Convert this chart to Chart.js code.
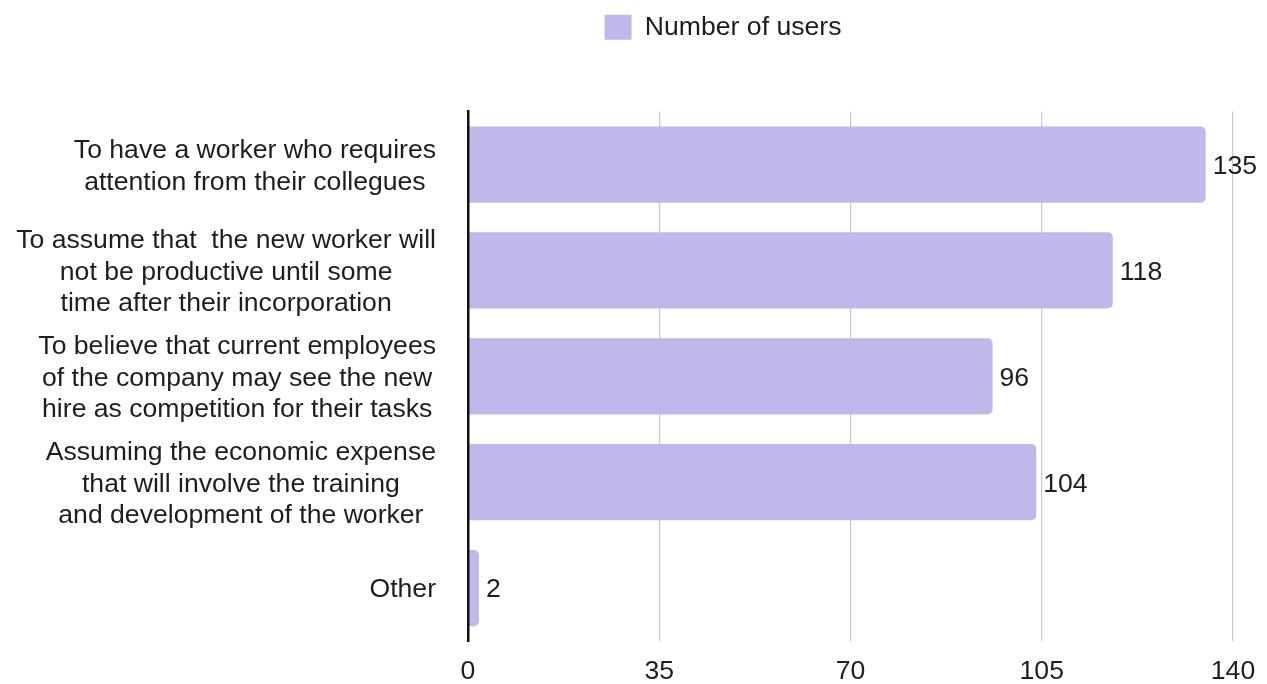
<!DOCTYPE html>
<html>
<head>
<meta charset="utf-8">
<title>Number of users</title>
<script src="https://cdn.jsdelivr.net/npm/chart.js@4/dist/chart.umd.min.js"></script>
<style>
  html, body { margin: 0; padding: 0; background: #ffffff; }
  #wrap { width: 1267px; height: 684px; }
</style>
</head>
<body>
<div id="wrap"><canvas id="chart" width="1267" height="684"></canvas></div>
<script>
// Survey answers, one entry per bar (each answer split into its printed lines)
const categories = [
  ["To have a worker who requires", "attention from their collegues"],
  ["To assume that  the new worker will", "not be productive until some", "time after their incorporation"],
  ["To believe that current employees", "of the company may see the new", "hire as competition for their tasks"],
  ["Assuming the economic expense", "that will involve the training", "and development of the worker"],
  ["Other"]
];
const seriesName = "Number of users";
const userCounts = [135, 118, 96, 104, 2];
const axisMin = 0;
const axisMax = 140;
const axisStep = 35;

const FONT = "'Liberation Sans', Arial, Helvetica, sans-serif";
const FONT_SIZE = 26.6;
const TEXT = '#1e1e1e';
const BAR = '#bfb9eb';

// Multi-line category labels: each block is centred on itself and the block is right-aligned
const categoryLabels = {
  id: 'categoryLabels',
  afterDraw(chart) {
    const y = chart.scales.y;
    const ctx = chart.ctx;
    const lineH = 31.5;
    const rightEdge = y.right - 32;
    ctx.save();
    ctx.font = FONT_SIZE + 'px ' + FONT;
    ctx.fillStyle = TEXT;
    ctx.textAlign = 'center';
    ctx.textBaseline = 'middle';
    chart.data.labels.forEach((lines, i) => {
      const cy = y.getPixelForValue(i) + 2;
      const w = Math.max(...lines.map(l => ctx.measureText(l).width));
      const cx = rightEdge - w / 2;
      const y0 = cy - (lines.length - 1) * lineH / 2;
      lines.forEach((l, k) => ctx.fillText(l, cx, y0 + k * lineH));
    });
    ctx.restore();
  }
};

// Value printed just past the end of each bar
const valueLabels = {
  id: 'valueLabels',
  afterDatasetsDraw(chart) {
    const ctx = chart.ctx;
    ctx.save();
    ctx.font = FONT_SIZE + 'px ' + FONT;
    ctx.fillStyle = TEXT;
    ctx.textAlign = 'left';
    ctx.textBaseline = 'middle';
    chart.data.datasets.forEach((ds, di) => {
      chart.getDatasetMeta(di).data.forEach((bar, i) => {
        ctx.fillText(String(ds.data[i]), bar.x + 7, bar.y + 2);
      });
    });
    ctx.restore();
  }
};

// Leave room between the legend and the plot
const legendGap = {
  id: 'legendGap',
  beforeInit(chart) {
    const lg = chart.legend;
    if (!lg) return;
    const fit = lg.fit;
    lg.fit = function () {
      fit.call(this);
      this.height += 61;
    };
  }
};

new Chart(document.getElementById('chart'), {
  type: 'bar',
  data: {
    labels: categories,
    datasets: [{
      label: seriesName,
      data: userCounts,
      backgroundColor: BAR,
      borderWidth: 0,
      borderRadius: 5,
      barPercentage: 0.8,
      categoryPercentage: 0.9
    }]
  },
  options: {
    indexAxis: 'y',
    responsive: false,
    animation: false,
    layout: { padding: { top: 4, left: 213, right: 34, bottom: 0 } },
    plugins: {
      legend: {
        position: 'top',
        align: 'center',
        labels: {
          boxWidth: 27,
          boxHeight: 25,
          padding: 10,
          color: TEXT,
          font: { family: FONT, size: FONT_SIZE }
        }
      },
      tooltip: { enabled: false }
    },
    scales: {
      x: {
        min: axisMin,
        max: axisMax,
        ticks: {
          stepSize: axisStep,
          padding: 15,
          color: TEXT,
          font: { family: FONT, size: FONT_SIZE }
        },
        grid: {
          drawTicks: false,
          lineWidth: 1.2,
          color: ctx => (ctx.tick && ctx.tick.value === 0) ? 'rgba(0,0,0,0)' : '#c8c8c8'
        },
        border: { display: false },
        afterFit(scale) {
          scale.height = 43;
          scale.paddingLeft = 0;
          scale.paddingRight = 0;
        }
      },
      y: {
        ticks: { display: false },
        grid: { display: false, drawTicks: false },
        border: { display: true, color: '#111111', width: 2.5, z: 1 },
        afterFit(scale) { scale.width = 255; }
      }
    }
  },
  plugins: [legendGap, valueLabels, categoryLabels]
});
</script>
</body>
</html>
